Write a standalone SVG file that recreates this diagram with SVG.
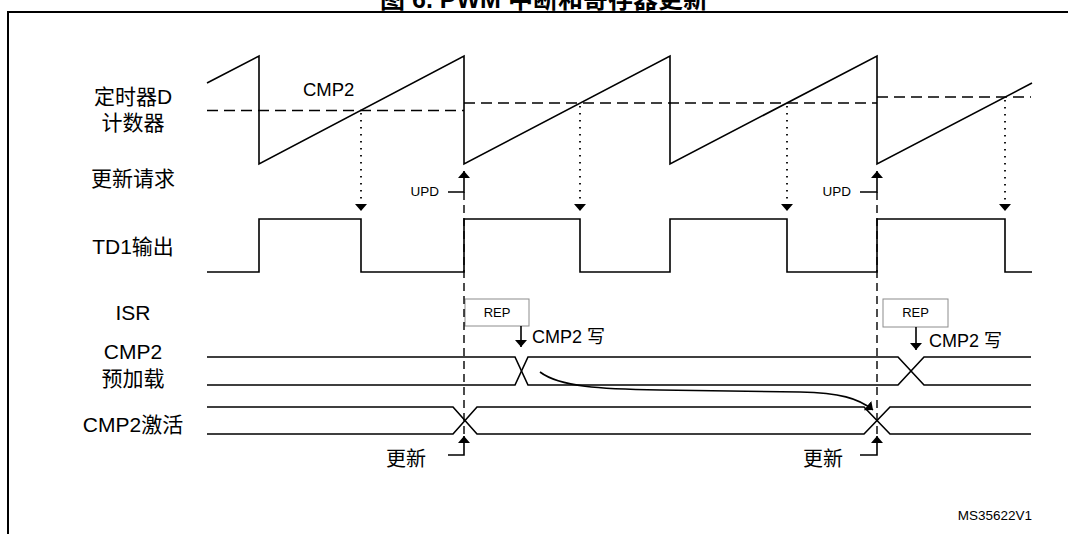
<svg xmlns="http://www.w3.org/2000/svg" width="1074" height="534" viewBox="0 0 1074 534">
<defs>
<marker id="ah" viewBox="0 0 7 12" refX="7" refY="6" markerWidth="7" markerHeight="12" markerUnits="userSpaceOnUse" orient="auto"><path d="M0,0 L7,6 L0,12 z" fill="#000"/></marker>
</defs>
<style>
.sig{fill:none;stroke:#000;stroke-width:1.6;stroke-linejoin:miter}
.lbl{font-family:"Liberation Sans","Noto Sans CJK SC",sans-serif;font-size:21px;fill:#000;text-anchor:middle}
.txt{font-family:"Liberation Sans","Noto Sans CJK SC",sans-serif;fill:#000}
.hdash{fill:none;stroke:#000;stroke-width:1.5;stroke-dasharray:11 6}
.vdash{fill:none;stroke:#000;stroke-width:1.4;stroke-dasharray:8 5}
.dot{fill:none;stroke:#000;stroke-width:1.8;stroke-dasharray:1.5 5.5;marker-end:url(#ah)}
.arr{fill:none;stroke:#000;stroke-width:1.6;marker-end:url(#ah)}
.rep{fill:none;stroke:#8c8c8c;stroke-width:1}
</style>
<rect width="1074" height="534" fill="#fff"/>
<g id="title">
<text x="544" y="8" text-anchor="middle" font-family="'Liberation Sans','Noto Sans CJK SC',sans-serif" font-size="25" font-weight="bold">图 6. PWM 中断和寄存器更新</text>
</g>
<g id="frame" fill="none" stroke="#000" stroke-width="2">
<path d="M8,534 V12 H1068"/>
</g>
<g id="labels" class="lbl">
<text x="133" y="104">定时器D</text>
<text x="133" y="130">计数器</text>
<text x="133" y="186">更新请求</text>
<text x="133" y="254">TD1输出</text>
<text x="133" y="320">ISR</text>
<text x="133" y="359">CMP2</text>
<text x="133" y="386">预加载</text>
<text x="133" y="432">CMP2激活</text>
</g>
<g id="counter">
<path class="sig" d="M207,83 L259,56 V164 L464,56 V164 L670,56 V164 L877,56 V164 L1032,83"/>
<path class="hdash" d="M207,110.5 H464 M464,103 H877 M877,97 H1031"/>
<text class="txt" x="303" y="96" font-size="18.5">CMP2</text>
</g>
<g id="td1-output">
<path class="sig" d="M207,272 H259 V219 H361 V272 H464 V219 H580 V272 H670 V219 H787 V272 H877 V219 H1005 V272 H1032"/>
</g>
<g id="isr">
<rect class="rep" x="465" y="299" width="64" height="27"/>
<text class="txt" x="497" y="317" font-size="13" text-anchor="middle">REP</text>
<rect class="rep" x="883" y="299" width="65" height="28"/>
<text class="txt" x="915.5" y="317" font-size="13" text-anchor="middle">REP</text>
</g>
<g id="cmp2-preload">
<path class="sig" d="M207,357 H515 L528,385 H898 L924,357 H1031"/>
<path class="sig" d="M207,385 H515 L528,357 H898 L924,385 H1031"/>
<text class="txt" x="532" y="343" font-size="18">CMP2 写</text>
<text class="txt" x="929" y="347" font-size="18">CMP2 写</text>
</g>
<g id="cmp2-active">
<path class="sig" d="M207,407 H453 L477,434 H864 L890,407 H1031"/>
<path class="sig" d="M207,434 H453 L477,407 H864 L890,434 H1031"/>
</g>
<g id="connectors">
<path class="dot" d="M361,113 V211"/>
<path class="dot" d="M580,106 V211"/>
<path class="dot" d="M787,106 V211"/>
<path class="dot" d="M1005,100 V211"/>
<path class="vdash" d="M464,192 V442"/>
<path class="vdash" d="M877,192 V442"/>
<path class="arr" d="M448,192 H464 V171"/>
<path class="arr" d="M860,192 H877 V171"/>
<text class="txt" x="439" y="196" font-size="13.5" text-anchor="end">UPD</text>
<text class="txt" x="851" y="196" font-size="13.5" text-anchor="end">UPD</text>
<path class="arr" d="M521,326 V347"/>
<path class="arr" d="M916,327 V350"/>
<path class="arr" d="M448,455 H464 V436"/>
<path class="arr" d="M860,455 H877 V436"/>
<text class="txt" x="426" y="466" font-size="20" text-anchor="end">更新</text>
<text class="txt" x="843" y="466" font-size="20" text-anchor="end">更新</text>
<path class="arr" d="M540,372 C560,387 600,389 660,390 L800,392 C840,393 858,398 873,410"/>
</g>
<g id="footer">
<text class="txt" x="1032" y="520" font-size="13.5" text-anchor="end">MS35622V1</text>
</g>
</svg>
